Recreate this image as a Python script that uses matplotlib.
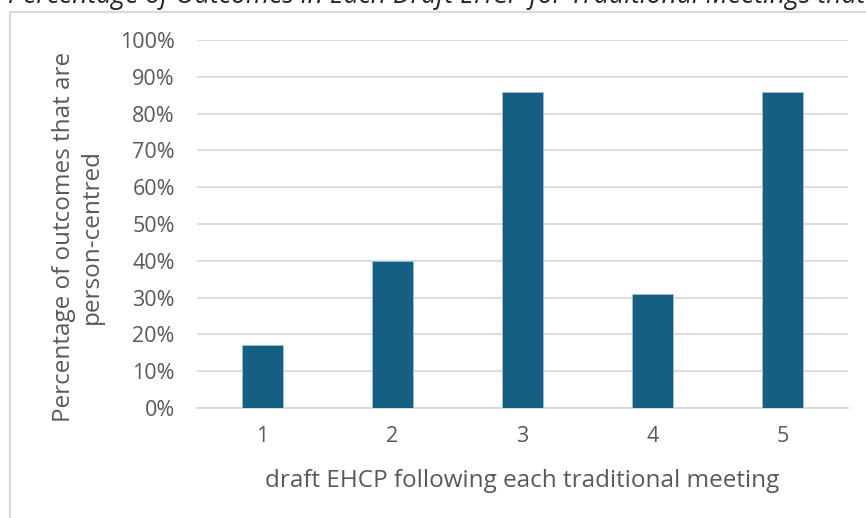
import matplotlib.pyplot as plt
from matplotlib.patches import Rectangle
from matplotlib.ticker import PercentFormatter

# draft EHCP number and share of person-centred outcomes
meetings = ["1", "2", "3", "4", "5"]
person_centred = [0.17, 0.40, 0.86, 0.31, 0.86]
y_ticks = [0.0, 0.1, 0.2, 0.3, 0.4, 0.5, 0.6, 0.7, 0.8, 0.9, 1.0]

plt.rcParams["font.family"] = ["Open Sans", "DejaVu Sans"]
text_col = "#595959"

fig = plt.figure(figsize=(8.66, 5.18), dpi=100)
W, H = 866, 518
ax = fig.add_axes([197 / W, (H - 408) / H, (848 - 197) / W, (408 - 40) / H])

# chart-area border, running off the right and bottom edges
fig.patches.append(Rectangle((10 / W, -0.1), 1.2, (H - 12) / H + 0.1,
                             transform=fig.transFigure, fill=False,
                             edgecolor="#d9d9d9", linewidth=1.5))

# title, partly clipped at the top
fig.text(8 / W, (H - 3) / H, "Percentage of Outcomes in Each Draft EHCP for Traditional Meetings that are Person-Centred",
         fontsize=19.2, style="italic", color="#262626", ha="left", va="baseline")

x = range(len(meetings))
ax.bar(x, person_centred, width=0.315, color="#156082",
       edgecolor="#9fc0d0", linewidth=0.6, zorder=3)

ax.set_xlim(-0.5, len(meetings) - 0.5)
ax.set_ylim(0, 1.0)
ax.set_yticks(y_ticks)
ax.yaxis.set_major_formatter(PercentFormatter(1.0, decimals=0))
ax.set_xticks(list(x))
ax.set_xticklabels(meetings)

ax.grid(axis="y", color="#d9d9d9", linewidth=1.3, zorder=0)
for s in ["top", "right", "left"]:
    ax.spines[s].set_visible(False)
ax.spines["bottom"].set_color("#d9d9d9")
ax.spines["bottom"].set_linewidth(1.3)
ax.tick_params(axis="both", length=0, labelsize=15.5, colors=text_col)
ax.tick_params(axis="y", pad=16)
ax.tick_params(axis="x", pad=13)

ax.set_xlabel("draft EHCP following each traditional meeting",
              fontsize=17.5, color=text_col, labelpad=16)
ax.set_ylabel("Percentage of outcomes that are\nperson-centred",
              fontsize=17.5, color=text_col, linespacing=1.2,
              va="center", ha="center")
ax.yaxis.set_label_coords(-0.183, 0.465)

fig.savefig("out.png", dpi=100)
